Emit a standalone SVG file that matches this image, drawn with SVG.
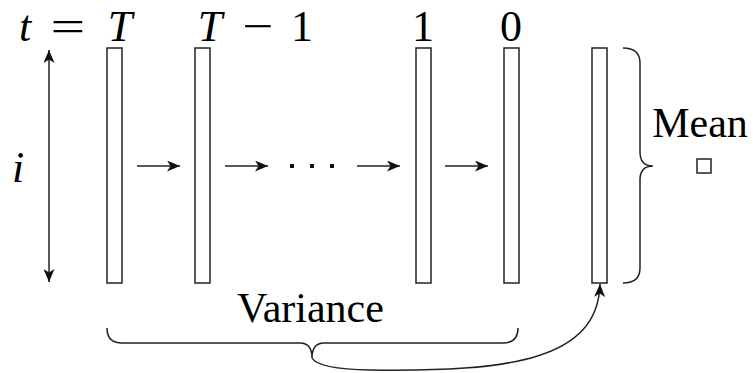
<svg xmlns="http://www.w3.org/2000/svg" width="753" height="373" viewBox="0 0 753 373">
<style>
.bar{fill:#fff;stroke:#222;stroke-width:1.5}
.ln{fill:none;stroke:#222;stroke-width:1.5}
.math{font-family:"Liberation Serif","Times New Roman",serif;font-size:44px;fill:#000}
.it{font-style:italic}
.lbl{font-family:"Liberation Serif","Times New Roman",serif;font-size:42px;fill:#000}
</style>
<defs>
<marker id="ah" viewBox="0 0 13 11" refX="13" refY="5.5" markerWidth="13" markerHeight="11" markerUnits="userSpaceOnUse" orient="auto-start-reverse">
<path d="M0,0 L13,5.5 L0,11 L3.5,5.5 Z" fill="#111"/>
</marker>
</defs>
<g id="labels">
<text class="math it" x="25" y="41" text-anchor="middle">t</text>
<text class="math" x="68" y="41" text-anchor="middle" transform="translate(68 0) scale(1.4 1) translate(-68 0)">=</text>
<text class="math it" x="120" y="41" text-anchor="middle">T</text>
<text class="math it" x="210" y="41" text-anchor="middle">T</text>
<text class="math" x="258" y="41" text-anchor="middle" transform="translate(258 0) scale(1.25 1) translate(-258 0)">−</text>
<text class="math" x="302" y="41" text-anchor="middle">1</text>
<text class="math" x="423" y="41" text-anchor="middle">1</text>
<text class="math" x="511" y="41" text-anchor="middle">0</text>
<text class="math it" x="18" y="182" text-anchor="middle">i</text>
</g>
<g id="bar-T"><rect class="bar" x="107" y="48" width="15" height="235"/></g>
<g id="bar-T1"><rect class="bar" x="195" y="48" width="15" height="235"/></g>
<g id="bar-1"><rect class="bar" x="416" y="48" width="15" height="235"/></g>
<g id="bar-0"><rect class="bar" x="504" y="48" width="15" height="235"/></g>
<g id="bar-out"><rect class="bar" x="592" y="48" width="15" height="235"/></g>
<g id="mean">
<text class="lbl" x="700" y="137" text-anchor="middle">Mean</text>
<rect class="bar" x="697" y="159" width="14" height="14" stroke-width="1.3"/>
</g>
<g id="variance">
<text class="lbl" x="237" y="322">Variance</text>
</g>
<g id="dots" fill="#111">
<rect x="290" y="164" width="4" height="4"/>
<rect x="310" y="164" width="4" height="4"/>
<rect x="330" y="164" width="4" height="4"/>
</g>
<g id="connectors">
<line class="ln" x1="49" y1="50" x2="49" y2="282" marker-start="url(#ah)" marker-end="url(#ah)"/>
<line class="ln" x1="137" y1="166" x2="180" y2="166" marker-end="url(#ah)"/>
<line class="ln" x1="225" y1="166" x2="268" y2="166" marker-end="url(#ah)"/>
<line class="ln" x1="357" y1="166" x2="400" y2="166" marker-end="url(#ah)"/>
<line class="ln" x1="445" y1="166" x2="488" y2="166" marker-end="url(#ah)"/>
<path class="ln" d="M107,328 Q107,343 122,343 L300,343 Q312,343 312,358 Q312,343 324,343 L503,343 Q518,343 518,328"/>
<path class="ln" d="M623,48 Q640,48 640,63 L640,152 Q640,166 653,166 Q640,166 640,180 L640,268 Q640,283 623,283"/>
<path class="ln" d="M312,358 Q318,369 370,370 C510,372 598,360 600,284" marker-end="url(#ah)"/>
</g>
</svg>
